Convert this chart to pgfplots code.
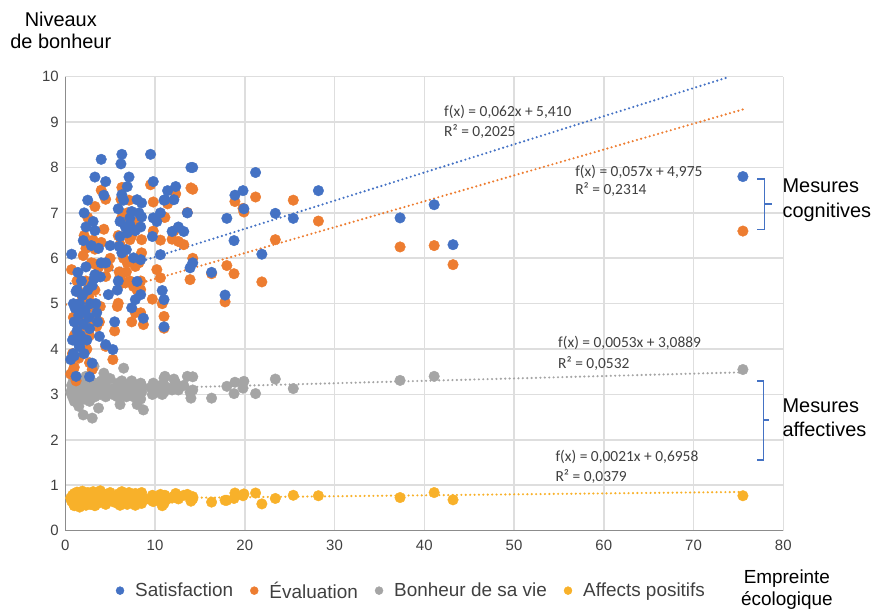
\documentclass[border=0pt]{standalone}
\usepackage{pgfplots}
\pgfplotsset{compat=1.18}
\usepackage{pgfplotstable}
\usepackage{fontspec}
\setmainfont{Liberation Sans}
\newfontfamily\carl{Carlito}
\definecolor{cblue}{HTML}{4472C4}
\definecolor{corange}{HTML}{ED7D31}
\definecolor{cgray}{HTML}{A5A5A5}
\definecolor{cyellow}{HTML}{F8B12A}
\definecolor{gridc}{HTML}{DEDEDE}
\definecolor{axc}{HTML}{8C8C8C}
\definecolor{txt}{HTML}{404040}

\pgfplotstableread{
x s e b a
0.6 3.77 3.45 3.05 0.72
0.7 6.09 5.75 3.20 0.65
0.8 4.20 3.90 2.95 0.78
0.9 5.00 4.70 3.10 0.60
0.9 3.90 3.55 3.30 0.70
1.0 4.60 4.30 2.85 0.82
1.0 3.85 3.60 3.15 0.55
1.1 4.90 4.60 3.00 0.68
1.2 3.40 3.30 3.25 0.75
1.2 5.27 4.90 2.90 0.62
1.3 4.40 4.80 3.10 0.85
1.3 5.30 5.50 3.35 0.70
1.4 5.69 5.30 3.05 0.58
1.5 4.10 3.80 2.74 0.76
1.5 4.75 5.00 3.20 0.66
1.6 5.00 4.40 2.95 0.80
1.6 4.05 4.30 3.10 0.52
1.7 4.30 4.50 3.30 0.73
1.8 5.50 5.20 3.00 0.64
1.9 5.18 4.70 3.15 0.87
2.0 6.39 6.06 2.55 0.70
2.0 4.55 4.20 3.05 0.60
2.1 7.00 6.50 3.25 0.78
2.1 3.90 4.10 2.90 0.68
2.2 4.85 5.10 3.10 0.74
2.3 6.69 6.22 3.40 0.82
2.3 5.81 5.50 3.00 0.56
2.4 4.20 4.00 3.20 0.72
2.5 7.28 6.90 2.95 0.66
2.5 5.30 4.90 3.15 0.84
2.6 4.70 5.16 3.05 0.62
2.7 3.39 3.70 3.30 0.76
2.7 4.45 4.30 2.85 0.70
2.8 5.00 4.60 3.10 0.58
2.9 6.28 5.90 3.00 0.80
3.0 3.69 3.55 2.48 0.66
3.0 5.40 5.01 3.20 0.74
3.1 6.81 6.40 3.10 0.86
3.2 5.55 5.88 3.62 0.64
3.3 7.79 7.14 3.00 0.72
3.3 6.61 6.20 3.25 0.55
3.3 5.64 5.30 2.95 0.78
3.4 5.00 4.70 3.10 0.68
3.5 4.80 4.50 3.05 0.82
3.6 4.60 4.90 3.20 0.60
3.7 6.22 5.80 2.70 0.74
3.8 4.28 4.60 3.15 0.70
3.9 5.59 4.94 3.00 0.88
4.0 8.18 7.50 3.30 0.66
4.0 5.90 6.35 3.10 0.76
4.3 7.39 6.64 3.47 0.62
4.5 7.69 7.30 3.05 0.80
4.5 5.90 5.60 3.20 0.70
4.5 4.10 4.06 2.95 0.58
4.8 5.20 5.81 3.10 0.74
5.0 6.28 6.00 3.35 0.84
5.3 3.99 3.77 3.00 0.64
5.5 4.60 4.40 3.15 0.72
5.8 5.30 4.94 2.95 0.60
5.9 7.09 6.50 3.10 0.78
5.9 5.50 5.01 3.25 0.68
6.0 6.26 5.70 3.05 0.82
6.1 6.81 6.30 2.78 0.74
6.1 6.48 5.60 3.20 0.56
6.2 8.08 7.30 3.00 0.70
6.3 8.29 7.56 3.15 0.86
6.3 7.40 6.90 3.30 0.66
6.3 6.12 5.45 3.00 0.76
6.5 7.28 6.00 3.58 0.62
6.7 6.69 5.46 3.10 0.80
6.8 6.19 5.70 2.95 0.70
6.9 7.58 7.00 3.20 0.58
6.9 6.56 5.90 3.05 0.74
7.1 7.79 7.28 3.15 0.84
7.2 6.89 6.41 3.00 0.66
7.2 6.74 5.50 3.25 0.72
7.4 7.03 6.50 3.10 0.62
7.4 4.91 4.60 3.30 0.78
7.6 6.01 5.38 2.95 0.70
7.8 6.61 5.82 3.20 0.82
7.8 5.09 4.80 3.05 0.56
8.0 7.29 6.80 2.78 0.76
8.0 5.49 5.30 3.15 0.68
8.2 7.00 5.90 3.00 0.80
8.4 6.69 5.31 3.25 0.64
8.4 5.97 5.50 3.10 0.74
8.4 5.20 4.80 2.90 0.70
8.5 7.22 6.41 3.20 0.60
8.5 6.91 6.12 3.05 0.84
8.7 4.68 4.54 2.66 0.72
9.5 8.29 7.62 3.15 0.68
9.7 6.48 5.10 3.00 0.78
9.8 7.69 7.24 3.25 0.64
9.8 6.89 6.60 3.10 0.74
10.2 6.81 5.75 3.05 0.70
10.6 7.00 6.40 3.20 0.80
10.6 6.08 5.57 3.10 0.66
10.8 5.29 5.00 3.00 0.55
11.0 5.09 4.72 3.36 0.70
11.0 4.49 4.46 3.05 0.60
11.0 7.28 6.91 3.20 0.76
11.1 7.29 6.90 3.40 0.78
11.4 7.49 7.20 3.15 0.70
11.9 6.59 6.42 3.10 0.72
12.1 7.29 6.60 3.34 0.76
12.3 7.58 7.42 3.25 0.82
12.6 6.69 6.37 3.10 0.70
13.2 6.59 6.30 3.20 0.78
13.6 7.00 7.01 3.40 0.80
13.9 5.79 5.53 3.05 0.72
14.0 8.00 7.55 2.92 0.65
14.2 8.00 7.52 3.39 0.75
14.2 5.90 6.00 3.10 0.70
16.3 5.69 5.66 2.92 0.63
17.8 5.19 5.04 nan 0.67
18.0 6.88 5.84 3.18 0.67
18.8 6.39 5.66 3.02 0.71
18.9 7.39 7.25 3.27 0.83
19.8 7.49 7.10 3.14 0.77
19.9 7.09 7.02 3.29 0.81
21.2 7.89 7.35 3.02 0.83
21.9 6.09 5.48 nan 0.59
23.4 6.99 6.41 3.34 0.71
25.4 6.88 7.28 3.13 0.78
28.2 7.49 6.82 nan 0.77
37.3 6.89 6.25 3.31 0.73
41.1 7.18 6.28 3.40 0.84
43.2 6.30 5.86 nan 0.68
75.5 7.80 6.60 3.55 0.77
}\datatable

\tikzset{trend/.style={line width=2.4bp, line cap=round, dash pattern=on 0pt off 4.4bp}}

\begin{document}
\begin{tikzpicture}
\path[use as bounding box] (0,0) rectangle (875bp,610bp);
\begin{axis}[
  at={(65.3bp,79.3bp)}, anchor=south west,
  scale only axis, width=718bp, height=454bp,
  xmin=0, xmax=80, ymin=0, ymax=10,
  xtick={0,10,...,80}, ytick={0,1,...,10},
  major tick length=0pt,
  axis line style={draw=none},
  /pgf/number format/assume math mode=true,
  ticklabel style={font=\fontsize{15}{18}\selectfont, text=txt},
  yticklabel style={xshift=-3bp},
  xticklabel style={yshift=-6bp},
  clip=false,
  legend columns=4,
  legend style={at={(rel axis cs:0.482,-0.132)}, anchor=center, draw=none, fill=none,
    font=\fontsize{19}{21}\selectfont, text=txt,
    /tikz/every odd column/.append style={column sep=9bp},
    /tikz/every even column/.append style={column sep=15bp}},
]
\addlegendimage{legend image code/.code={\fill[cblue] (0,0) circle (4bp);}}
\addlegendentry{Satisfaction}
\addlegendimage{legend image code/.code={\fill[corange] (0,0) circle (4bp);}}
\addlegendentry{Évaluation}
\addlegendimage{legend image code/.code={\fill[cgray] (0,0) circle (4bp);}}
\addlegendentry{Bonheur de sa vie}
\addlegendimage{legend image code/.code={\fill[cyellow] (0,0) circle (4bp);}}
\addlegendentry{Affects positifs}

\pgfplotsinvokeforeach{10,20,30,40,50,60,70,80}{
  \draw[gridc, line width=1.6bp] (axis cs:#1,0) -- (axis cs:#1,10);
}
\pgfplotsinvokeforeach{1,2,3,4,5,6,7,8,9,10}{
  \draw[gridc, line width=1.6bp] (axis cs:0,#1) -- (axis cs:80,#1);
}

\addplot[only marks, mark=*, mark size=5.3bp, cyellow, forget plot] table[x=x, y=a] {\datatable};
\addplot[only marks, mark=*, mark size=5.3bp, cgray, forget plot] table[x=x, y=b] {\datatable};
\addplot[only marks, mark=*, mark size=5.3bp, corange, forget plot] table[x=x, y=e] {\datatable};
\addplot[only marks, mark=*, mark size=5.3bp, cblue, forget plot] table[x=x, y=s] {\datatable};

\addplot[trend, cblue, forget plot] coordinates {(0.6,5.447) (74.0,9.998)};
\addplot[trend, corange, forget plot] coordinates {(0.1,4.981) (75.5,9.279)};
\addplot[trend, cgray, forget plot] coordinates {(0.5,3.092) (75.5,3.489)};
\addplot[trend, cyellow, forget plot] coordinates {(0.5,0.697) (75.5,0.854)};

\draw[axc, line width=1.4bp] (axis cs:0,10) -- (axis cs:0,0) -- (axis cs:80,0);

\node[anchor=west, inner sep=0pt, text=txt, font=\carl\fontsize{15.5}{18}\selectfont] at (axis cs:42.2,9.23) {f(x) = 0,062x + 5,410};
\node[anchor=west, inner sep=0pt, text=txt, font=\carl\fontsize{15.5}{18}\selectfont] at (axis cs:42.2,8.79) {R² = 0,2025};
\node[anchor=west, inner sep=0pt, text=txt, font=\carl\fontsize{15.5}{18}\selectfont] at (axis cs:56.8,7.91) {f(x) = 0,057x + 4,975};
\node[anchor=west, inner sep=0pt, text=txt, font=\carl\fontsize{15.5}{18}\selectfont] at (axis cs:56.8,7.51) {R² = 0,2314};
\node[anchor=west, inner sep=0pt, text=txt, font=\carl\fontsize{15.5}{18}\selectfont] at (axis cs:54.9,4.14) {f(x) = 0,0053x + 3,0889};
\node[anchor=west, inner sep=0pt, text=txt, font=\carl\fontsize{15.5}{18}\selectfont] at (axis cs:54.9,3.68) {R² = 0,0532};
\node[anchor=west, inner sep=0pt, text=txt, font=\carl\fontsize{15.5}{18}\selectfont] at (axis cs:54.6,1.63) {f(x) = 0,0021x + 0,6958};
\node[anchor=west, inner sep=0pt, text=txt, font=\carl\fontsize{15.5}{18}\selectfont] at (axis cs:54.6,1.19) {R² = 0,0379};

\draw[cblue, line width=1.4bp] (axis cs:77.1,7.75) -- (axis cs:77.9,7.75) -- (axis cs:77.9,6.63) -- (axis cs:77.1,6.63)
  (axis cs:77.9,7.20) -- (axis cs:78.7,7.20);
\draw[cblue, line width=1.4bp] (axis cs:77.1,3.30) -- (axis cs:77.8,3.30) -- (axis cs:77.8,1.56) -- (axis cs:77.1,1.56)
  (axis cs:77.8,2.44) -- (axis cs:78.4,2.44);

\node[anchor=west, align=left, inner sep=0pt, font=\fontsize{20}{24.5}\selectfont] at (axis cs:79.9,7.28) {Mesures\\cognitives};
\node[anchor=west, align=left, inner sep=0pt, font=\fontsize{20}{24.5}\selectfont] at (axis cs:79.9,2.49) {Mesures\\affectives};
\node[align=center, inner sep=0pt, font=\fontsize{20}{23}\selectfont] at (axis cs:-0.5,11.02) {Niveaux\\de bonheur};
\node[align=center, inner sep=0pt, font=\fontsize{19}{22}\selectfont] at (axis cs:80.4,-1.29) {Empreinte\\écologique};
\end{axis}
\end{tikzpicture}
\end{document}
